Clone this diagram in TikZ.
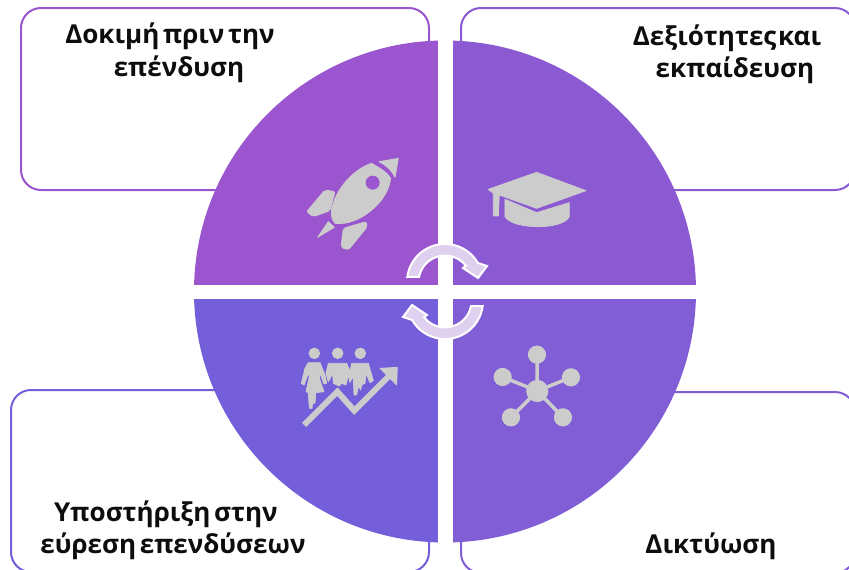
\documentclass[tikz,border=0pt]{standalone}
\usepackage{fontspec}
\setmainfont{Open Sans}[WordSpace=0.55]
\definecolor{tl}{HTML}{9B55CE}
\definecolor{tr}{HTML}{8B5AD3}
\definecolor{br}{HTML}{815DD6}
\definecolor{bl}{HTML}{745EDA}
\definecolor{icon}{HTML}{CCCCCC}
\definecolor{arrowfill}{HTML}{E0D0EF}
\tikzset{
  box/.style={draw=#1,line width=2pt,fill=white,rectangle,rounded corners=20pt,inner sep=0pt},
  label/.style={font=\fontsize{26}{30}\selectfont\bfseries,text=black!95,anchor=base,inner sep=0pt},
  cyc/.style={fill=arrowfill,draw=white,line width=2pt,line join=miter},
  ic/.style={fill=icon,draw=icon,line width=0.8pt,line join=round}
}
\begin{document}
\begin{tikzpicture}[x=1pt,y=-1pt]
\useasboundingbox (0,0) rectangle (849,570);
\node[box=tl,minimum width=408pt,minimum height=182pt] (boxtl) at (225,99) {};
\node[box=tr,minimum width=394pt,minimum height=182pt] (boxtr) at (658,99) {};
\node[box=bl,minimum width=418pt,minimum height=182pt] (boxbl) at (220,481) {};
\node[box=br,minimum width=394pt,minimum height=181pt] (boxbr) at (658,482.5) {};
\begin{scope}
\clip (445,291.5) circle [radius=251];
\fill[tl] (0,0) rectangle (437.5,284.5);
\fill[tr] (452.5,0) rectangle (849,284.5);
\fill[bl] (0,299) rectangle (437.5,570);
\fill[br] (452.5,299) rectangle (849,570);
\end{scope}
% rocket and cap
\begin{scope}[shift={(280,140)},x=0.3333pt,y=-0.3333pt]
\fill[ic] (275,70) .. controls (300,85) and (320,95) .. (332,115) .. controls (325,170) and (280,215) .. (232,238) .. controls (205,250) and (185,252) .. (165,250) .. controls (152,235) and (150,215) .. (160,190) .. controls (175,140) and (225,85) .. (275,70) -- cycle;
\fill[tl] (278,128) circle [radius=21];
\fill[ic] (297,65) -- (355,55) -- (345,112) .. controls (335,90) and (318,75) .. (297,65) -- cycle;
\fill[ic,rounded corners=2pt] (80,215) -- (135,150) -- (165,155) -- (150,212) -- (100,230) -- cycle;
\fill[ic] (113,292) -- (145,245) -- (163,262) -- cycle;
\fill[ic,rounded corners=2pt] (183,322) -- (190,265) -- (258,245) -- (262,260) -- (205,330) -- cycle;
\fill[ic] (625,148) -- (770,97) -- (918,152) -- (770,205) -- (658,165) -- (655,228) -- (640,228) -- (640,160) -- cycle;
\fill[ic] (675,178) -- (770,218) -- (868,188) -- (868,230) .. controls (850,270) and (700,270) .. (675,230) -- cycle;
\end{scope}
% network
\begin{scope}[shift={(280,230)},x=0.3333pt,y=-0.3333pt]
\foreach \px/\py in {771/374,668/441,873/442,693/562,849/562}{
  \draw[icon,line width=3.5pt] (772,483) -- (\px,\py);
  \fill[ic] (\px,\py) circle [radius=26];
}
\fill[ic] (772,483) circle [radius=32];
\end{scope}
% people and rising arrow
\begin{scope}[shift={(300,340)},x=0.3333pt,y=-0.3333pt]
\foreach \hx in {43,113,181}{\fill[ic] (\hx,40) circle [radius=16];}
\fill[ic] (25,68) -- (60,68) -- (75,105) -- (80,130) -- (72,132) -- (60,100) -- (58,115) -- (72,155) -- (47,158) -- (45,190) -- (38,190) -- (36,205) -- (28,205) -- (25,158) -- (18,155) -- (28,110) -- (25,100) -- (12,135) -- (4,130) -- (15,85) -- cycle;
\fill[ic] (85,70) -- (140,70) -- (155,105) -- (150,128) -- (145,105) -- (138,135) -- (125,130) -- (118,138) -- (100,130) -- (98,100) -- (85,125) -- (78,100) -- cycle;
\fill[ic] (155,70) -- (205,70) -- (220,122) -- (210,128) -- (198,100) -- (195,130) -- (185,135) -- (182,150) -- (175,138) -- (170,165) -- (162,165) -- (160,110) -- (150,125) -- (150,95) -- cycle;
\draw[icon,line width=6pt,line join=miter] (12,255) -- (112,155) -- (163,212) -- (270,105);
\fill[ic] (240,85) -- (292,82) -- (290,135) -- cycle;
\end{scope}
% cycle arrows
\begin{scope}[shift={(445,282)}]
\path[cyc,draw] (-37.7,-5) arc [start angle=187.5,end angle=330,radius=38] -- (42,-16) -- (33,-4) -- (18,-14) -- (20.9,-16.3) arc [start angle=322,end angle=191,radius=26.5] -- cycle;
\end{scope}
\begin{scope}[shift={(445,301)}]
\path[cyc,draw] (37.7,5) arc [start angle=7.5,end angle=150,radius=38] -- (-42,16) -- (-33,4) -- (-18,14) -- (-20.9,16.3) arc [start angle=142,end angle=11,radius=26.5] -- cycle;
\end{scope}
\node[label] (t1a) at (170,43) {Δοκιμή πριν την};
\node[label] (t1b) at (179,76) {επένδυση};
\node[label] (t2a) at (727,45) {Δεξιότητες\hspace{-2pt} και};
\node[label] (t2b) at (735,77) {εκπαίδευση};
\node[label] (t3a) at (166,521) {Υποστήριξη στην};
\node[label] (t3b) at (173,553) {εύρεση επενδύσεων};
\node[label] (t4) at (711,553) {Δικτύωση};
\end{tikzpicture}
\end{document}
